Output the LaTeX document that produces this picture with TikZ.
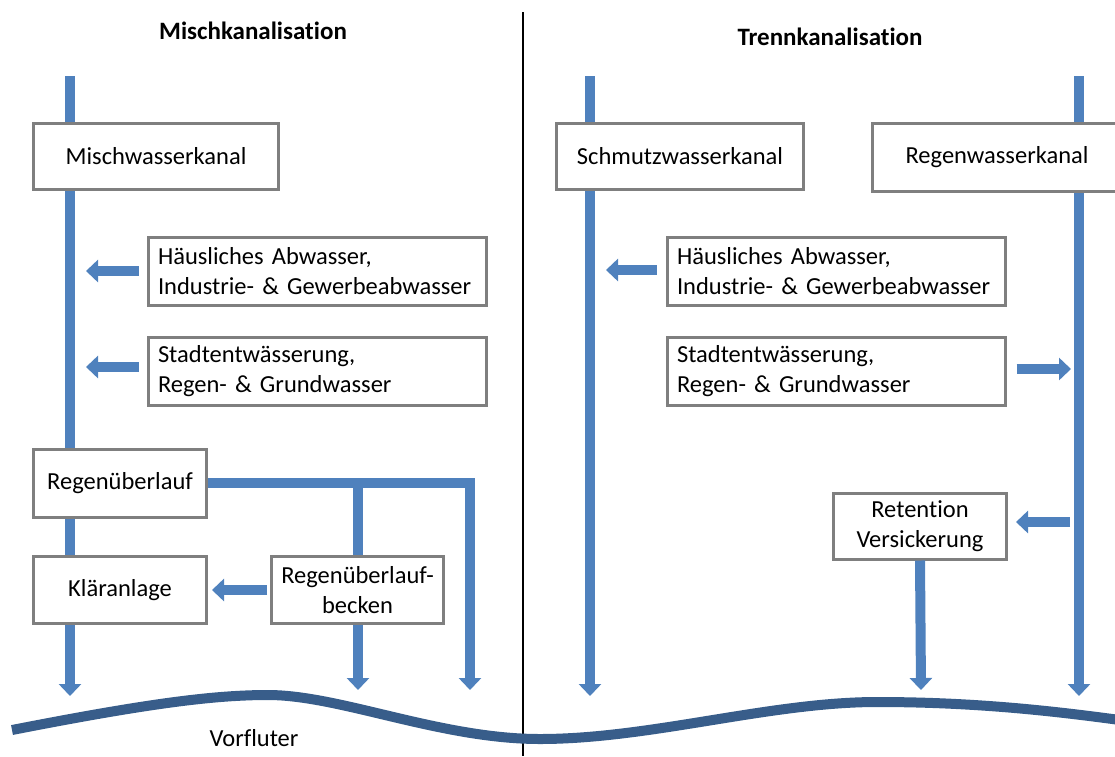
\documentclass[tikz,border=0pt]{standalone}
\usepackage{fontspec}
\setmainfont[Ligatures=NoCommon]{Carlito}
\usetikzlibrary{arrows.meta}
\definecolor{pipe}{HTML}{4F81BD}
\definecolor{river}{HTML}{385D8A}
\definecolor{boxgray}{HTML}{7F7F7F}
\frenchspacing
\begin{document}
\begin{tikzpicture}[x=1pt,y=-1pt,
  txt/.style={font=\fontsize{24.5}{30}\selectfont},
  box/.style={txt, draw=boxgray, line width=3pt, fill=white, inner sep=0pt, align=center},
  lbox/.style={box, align=left, text width=318pt, inner xsep=10pt, minimum height=68pt},
  pipeline/.style={draw=pipe, line width=10pt, line join=miter},
  flow/.style={pipeline, -{Triangle[length=12pt,width=22pt]}},
  title/.style={font=\bfseries\fontsize{25}{30}\selectfont},
]
\useasboundingbox (0,0) rectangle (1115,756);
\clip (0,0) rectangle (1115,756);

% divider
\draw[black, line width=1.2pt] (523,12) -- (523,756);

% titles
\node[title] (t1) at (253,31) {Mischkanalisation};
\node[title] (t2) at (830,37) {Trennkanalisation};

% coordinates for pipe ends
\coordinate (a1) at (70,76);   \coordinate (a2) at (70,696);
\coordinate (b1) at (470,485); \coordinate (b2) at (470,690);
\coordinate (c1) at (358,485); \coordinate (c2) at (358,690);
\coordinate (d1) at (590,76);  \coordinate (d2) at (590,696);
\coordinate (e1) at (1079,76); \coordinate (e2) at (1079,696);
\coordinate (f2) at (921,690);

% main pipes (behind boxes)
\draw[flow] (a1) -- (a2);
\draw[flow] (d1) -- (d2);
\draw[flow] (e1) -- (e2);
\draw[flow] (c1) -- (c2);

% boxes
\node[box, minimum width=245pt, minimum height=66pt] (mwk) at (156,156) {Mischwasserkanal};
\node[lbox] (hl) at (317,271) {Häusliches Abwasser,\\Industrie- \& Gewerbeabwasser};
\node[lbox] (sl) at (317,371) {Stadtentwässerung,\\Regen- \& Grundwasser};
\node[box, minimum width=173pt, minimum height=68pt] (rue) at (120,483) {Regenüberlauf};
\node[box, minimum width=173pt, minimum height=67pt] (kla) at (120,590) {Kläranlage};
\node[box, minimum width=172pt, minimum height=67pt] (rub) at (357.5,590) {Regenüberlauf-\\becken};

\node[box, minimum width=247pt, minimum height=66pt] (swk) at (680,156) {Schmutzwasserkanal};
\node[box, minimum width=250pt, minimum height=68pt] (rwk) at (997,157) {Regenwasserkanal};
\node[lbox] (hr) at (836,271) {Häusliches Abwasser,\\Industrie- \& Gewerbeabwasser};
\node[lbox] (sr) at (836,371) {Stadtentwässerung,\\Regen- \& Grundwasser};
\node[box, minimum width=173pt, minimum height=66pt] (ret) at (920,526) {Retention\\Versickerung};

% overflow pipe from Regenüberlauf
\draw[flow] (rue.east) -- (rue.east -| b1) -- (b2);

% short flow arrows
\coordinate (p1) at (86,271);
\coordinate (p2) at (86,367);
\coordinate (p3) at (606,270);
\coordinate (p4) at (1071,369);
\coordinate (p5) at (1070,522);
\draw[flow] ([xshift=-8pt]hl.west |- p1) -- (p1);
\draw[flow] ([xshift=-8pt]sl.west |- p2) -- (p2);
\draw[flow] ([xshift=-3pt]rub.west) -- ([xshift=4pt]kla.east);
\draw[flow] ([xshift=-9pt]hr.west |- p3) -- (p3);
\draw[flow] ([xshift=10pt]sr.east |- p4) -- (p4);
\draw[flow] (p5) -- ([xshift=8pt]ret.east |- p5);
\draw[flow] (ret.south) -- (f2);

% river
\coordinate (w1) at (12,730);
\coordinate (w2) at (268,695);
\coordinate (w3) at (540,739);
\coordinate (w4) at (877,702);
\coordinate (w5) at (1120,720);
\draw[river, line width=10pt] (w1) .. controls (150,703) and (215,695) .. (w2)
  .. controls (340,695) and (440,739) .. (w3)
  .. controls (650,739) and (770,702) .. (w4)
  .. controls (980,702) and (1060,712) .. (w5);

\node[txt] (vf) at (254,738) {Vorfluter};
\end{tikzpicture}
\end{document}
